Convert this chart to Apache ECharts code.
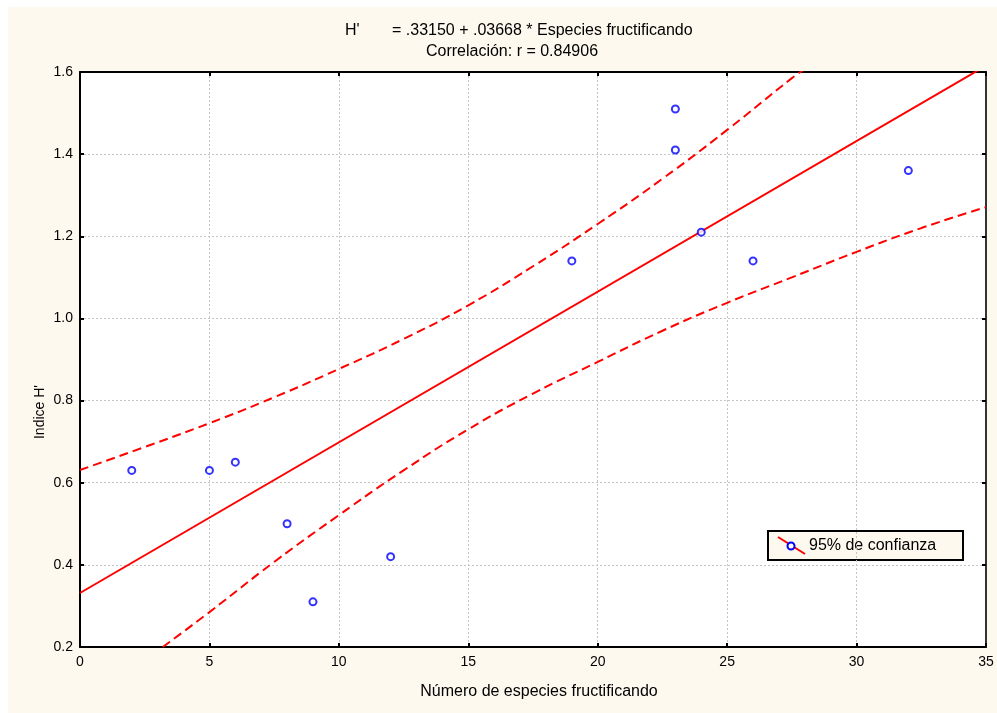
<!DOCTYPE html>
<html>
<head>
<meta charset="utf-8">
<script src="https://cdn.jsdelivr.net/npm/echarts@6/dist/echarts.min.js"></script>
<style>
html,body{margin:0;padding:0;background:#fff;}
#c{width:997px;height:713px;}
</style>
</head>
<body>
<div id="c"></div>
<script>
// Observed points
const xPts = [2, 5, 6, 8, 9, 12, 19, 23, 23, 24, 26, 32];
const yPts = [0.63, 0.63, 0.65, 0.50, 0.31, 0.42, 1.14, 1.51, 1.41, 1.21, 1.14, 1.36];
// Regression line end points
const fitX = [0, 35];
const fitY = [0.3315, 1.6153];
// 95% confidence band
const upperX = [0, 2.5, 5, 7.5, 10, 12.5, 15, 17.5, 20, 22.5, 25, 27.5, 28];
const upperY = [0.631, 0.687, 0.745, 0.808, 0.877, 0.950, 1.032, 1.127, 1.230, 1.340, 1.459, 1.585, 1.607];
const lowerX = [3.2, 5, 7.5, 10, 12.5, 15, 17.5, 20, 22.5, 25, 27.5, 30, 32.5, 35];
const lowerY = [0.2, 0.285, 0.407, 0.521, 0.630, 0.730, 0.817, 0.894, 0.970, 1.038, 1.100, 1.162, 1.220, 1.271];
// Axis settings
const xMin = 0, xMax = 35, xStep = 5;
const yMin = 0.2, yMax = 1.6, yStep = 0.2;
const titleLine1a = "H'";
const titleLine1b = "= .33150 + .03668 * Especies fructificando";
const titleLine2 = "Correlación: r = 0.84906";
const xName = "Número de especies fructificando";
const yName = "Indice H'";
const legendName = "95% de confianza";

const zip = (a, b) => a.map((v, i) => [v, b[i]]);
const font = "'Liberation Sans', Arial, sans-serif";

const chart = echarts.init(document.getElementById('c'), null, {renderer: 'canvas'});
const axisCommonX = {type: 'value', min: xMin, max: xMax, interval: xStep};
const axisCommonY = {type: 'value', min: yMin, max: yMax, interval: yStep};
chart.setOption({
  backgroundColor: '#fdf9ee',
  animation: false,
  grid: {left: 80, top: 72, right: 11, bottom: 66, show: true, backgroundColor: '#ffffff', borderWidth: 0},
  xAxis: [
    Object.assign({}, axisCommonX, {
      position: 'bottom',
      axisLine: {show: true, onZero: false, lineStyle: {color: '#000', width: 2}},
      axisTick: {show: true, inside: true, length: 4, lineStyle: {color: '#000', width: 2}},
      axisLabel: {fontFamily: font, fontSize: 14, color: '#000', margin: 8,
        formatter: v => String(v)},
      splitLine: {show: true, lineStyle: {color: '#c4c4c4', width: 1, type: [2, 2]}}
    }),
    Object.assign({}, axisCommonX, {
      position: 'top',
      axisLine: {show: true, onZero: false, lineStyle: {color: '#000', width: 2}},
      axisTick: {show: true, inside: true, length: 4, lineStyle: {color: '#000', width: 2}},
      axisLabel: {show: false},
      splitLine: {show: false}
    })
  ],
  yAxis: [
    Object.assign({}, axisCommonY, {
      position: 'left',
      axisLine: {show: true, onZero: false, lineStyle: {color: '#000', width: 2}},
      axisTick: {show: true, inside: true, length: 4, lineStyle: {color: '#000', width: 2}},
      axisLabel: {fontFamily: font, fontSize: 14, color: '#000', margin: 7,
        formatter: v => v.toFixed(1)},
      splitLine: {show: true, lineStyle: {color: '#c4c4c4', width: 1, type: [2, 2]}}
    }),
    Object.assign({}, axisCommonY, {
      position: 'right',
      axisLine: {show: true, onZero: false, lineStyle: {color: '#333', width: 2}},
      axisTick: {show: true, inside: true, length: 4, lineStyle: {color: '#000', width: 2}},
      axisLabel: {show: false},
      splitLine: {show: false}
    })
  ],
  series: [
    {
      type: 'line', name: 'fit', data: zip(fitX, fitY), showSymbol: false, clip: true,
      lineStyle: {color: '#ff0000', width: 2}, z: 3
    },
    {
      type: 'line', name: 'upper', data: zip(upperX, upperY), showSymbol: false, clip: true, smooth: 0.5,
      lineStyle: {color: '#ff0000', width: 2, type: [9, 5]}, z: 3
    },
    {
      type: 'line', name: 'lower', data: zip(lowerX, lowerY), showSymbol: false, clip: true, smooth: 0.5,
      lineStyle: {color: '#ff0000', width: 2, type: [9, 5]}, z: 3
    },
    {
      type: 'scatter', name: legendName, data: zip(xPts, yPts), symbol: 'circle', symbolSize: 7,
      itemStyle: {color: '#ffffff', borderColor: '#0000ff', borderWidth: 2}, z: 5
    }
  ],
  graphic: [
    {type: 'rect', shape: {x: 0, y: 0, width: 997, height: 7}, style: {fill: '#ffffff'}, silent: true},
    {type: 'rect', shape: {x: 0, y: 0, width: 8, height: 713}, style: {fill: '#ffffff'}, silent: true},
    {type: 'text', x: 345, y: 31, style: {text: titleLine1a, font: '16px ' + font, fill: '#000', textVerticalAlign: 'middle'}},
    {type: 'text', x: 392, y: 31, style: {text: titleLine1b, font: '16px ' + font, fill: '#000', textVerticalAlign: 'middle'}},
    {type: 'text', x: 512, y: 52, style: {text: titleLine2, font: '16px ' + font, fill: '#000', textAlign: 'center', textVerticalAlign: 'middle'}},
    {type: 'text', x: 539, y: 692, style: {text: xName, font: '16px ' + font, fill: '#000', textAlign: 'center', textVerticalAlign: 'middle'}},
    {type: 'text', x: 40, y: 412, rotation: Math.PI / 2, style: {text: yName, font: '14px ' + font, fill: '#000', textAlign: 'center', textVerticalAlign: 'middle'}},
    {type: 'group', z: 100, children: [
      {type: 'rect', shape: {x: 768, y: 531, width: 195, height: 29}, style: {fill: '#fdf9ee', stroke: '#000', lineWidth: 2}},
      {type: 'line', shape: {x1: 778, y1: 537, x2: 805, y2: 554}, style: {stroke: '#ff0000', lineWidth: 2}},
      {type: 'circle', shape: {cx: 791, cy: 546, r: 3.5}, style: {fill: '#ffffff', stroke: '#0000ff', lineWidth: 2}},
      {type: 'text', x: 809, y: 546, style: {text: legendName, font: '16px ' + font, fill: '#000', textVerticalAlign: 'middle'}}
    ]}
  ]
});
</script>
</body>
</html>
